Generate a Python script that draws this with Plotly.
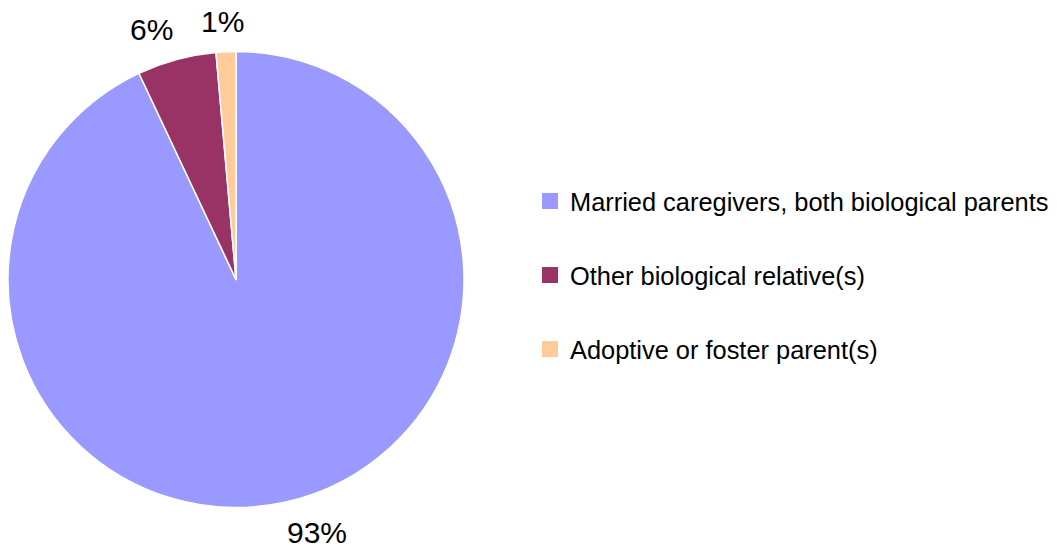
import math
import plotly.graph_objects as go

categories = ["Married caregivers, both biological parents",
              "Other biological relative(s)",
              "Adoptive or foster parent(s)"]
shares = [93.0, 5.6, 1.4]
colors = ["#9999FF", "#993366", "#FFCC99"]

W, H = 1057, 546
FONT = "Liberation Sans, Arial, sans-serif"

# pie geometry (pixels)
CX, CY, R = 236, 279.5, 228
LABEL_R = R + 17

fig = go.Figure()
fig.add_trace(go.Pie(
    labels=categories,
    values=shares,
    sort=False,
    direction="clockwise",
    rotation=0,
    marker=dict(colors=colors, line=dict(color="white", width=1.5)),
    textinfo="none",
    showlegend=False,
    domain=dict(x=[(CX - R) / W, (CX + R) / W], y=[1 - (CY + R) / H, 1 - (CY - R) / H]),
))

# percentage labels placed outside each slice at its mid-angle
total = sum(shares)
cum = 0.0
for v in shares:
    mid = (cum + v / 2) / total * 2 * math.pi
    cum += v
    s, c = math.sin(mid), math.cos(mid)
    px = CX + LABEL_R * s
    py = CY - LABEL_R * c
    if s > 0.1:
        xanchor, xshift = "left", -4
    elif s < -0.1:
        xanchor, xshift = "right", 3
    else:
        xanchor, xshift = "center", -3
    if c > 0:
        yanchor, yshift = "bottom", -5
    else:
        yanchor, yshift = "top", 5
    fig.add_annotation(
        x=px / W, y=1 - py / H, xref="paper", yref="paper",
        text=f"{round(v / total * 100)}%", showarrow=False,
        xanchor=xanchor, yanchor=yanchor, xshift=xshift, yshift=yshift,
        font=dict(family=FONT, size=30, color="black"),
    )

# legend entries (one per category)
for i, (cat, col) in enumerate(zip(categories, colors)):
    fig.add_trace(go.Scatter(
        x=[None], y=[None], mode="markers", name=cat,
        marker=dict(symbol="square", size=16, color=col),
        legendgroup=f"g{i}", showlegend=True, hoverinfo="skip",
    ))

fig.update_layout(
    width=W, height=H,
    margin=dict(l=0, r=0, t=0, b=0),
    paper_bgcolor="white", plot_bgcolor="white",
    font=dict(family=FONT, color="black"),
    xaxis=dict(visible=False, domain=[0.99, 1.0]),
    yaxis=dict(visible=False, domain=[0.99, 1.0]),
    legend=dict(
        x=530 / W, xanchor="left",
        y=1 - 275.5 / H, yanchor="middle",
        font=dict(family=FONT, size=25.4, color="black"),
        tracegroupgap=38,
        traceorder="grouped",
        bgcolor="rgba(0,0,0,0)",
        itemclick=False, itemdoubleclick=False,
    ),
)

fig.write_html("out.html", config={"displayModeBar": False},
               post_script="document.body.style.margin='0px';")
